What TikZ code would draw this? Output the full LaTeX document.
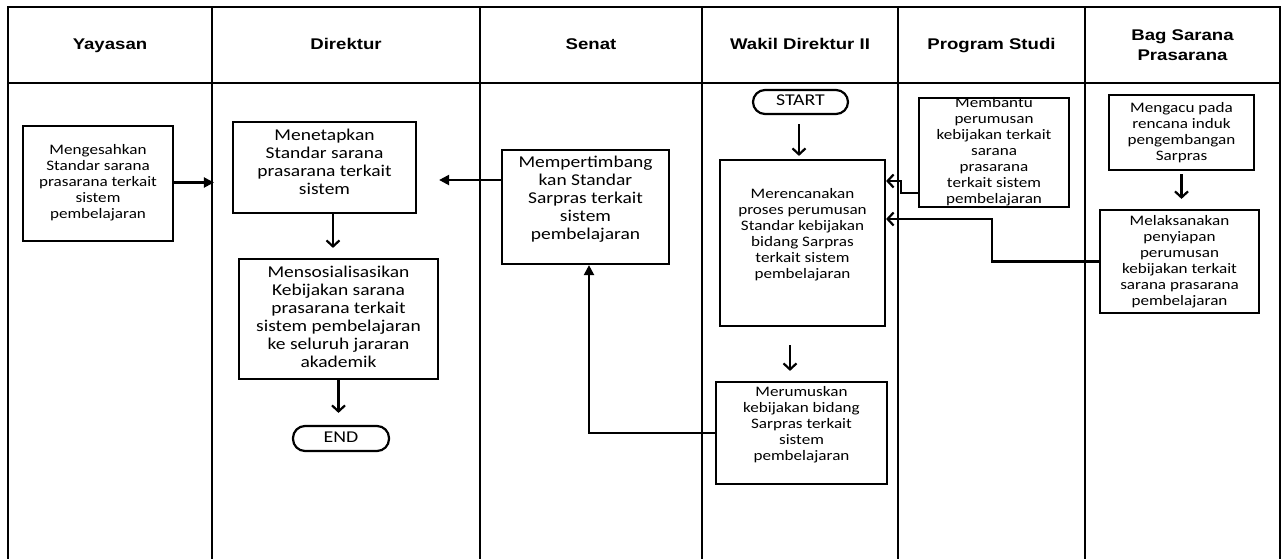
\documentclass[tikz,border=0pt]{standalone}
\usepackage{fontspec}
\usepackage{graphicx}
\newfontfamily\bodyfont{Carlito}
\newfontfamily\hdrfont{Liberation Sans}
\newcommand{\wtxt}[2][1.18]{\scalebox{#1}[1]{\begin{tabular}{@{}c@{}}#2\end{tabular}}}
\usetikzlibrary{arrows.meta}
\tikzset{
  lane/.style={line width=2.2pt},
  box/.style={draw, line width=2.2pt, inner sep=0pt, fill=white},
  txt/.style={font=\bodyfont\fontsize{14.5}{16}\selectfont, inner sep=0pt},
  txtbig/.style={font=\bodyfont\fontsize{16.5}{18}\selectfont, inner sep=0pt},
  term/.style={draw, line width=2.2pt, rounded corners=12pt, inner sep=0pt, font=\bodyfont\fontsize{16.5}{18}\selectfont},
  hdr/.style={font=\hdrfont\bfseries\fontsize{15.5}{20}\selectfont, inner sep=0pt},
  fa/.style={line width=2.2pt, -{Triangle[length=10pt,width=10pt]}},
  oa/.style={line width=2.2pt, -{Straight Barb[length=6pt,width=13pt]}},
}
\begin{document}
\begin{tikzpicture}[x=1pt,y=-1pt]
\useasboundingbox (0,0) rectangle (1286,558);
% lanes
\draw[lane] (8,560) -- (8,7) -- (1280,7) -- (1280,560);
\draw[lane] (8,83) -- (1280,83);
\foreach \x in {212,480,702,898,1085} \draw[lane] (\x,7) -- (\x,560);
% headers
\node[hdr] (h1) at (110,45) {\wtxt[1.2]{Yayasan}};
\node[hdr] (h2) at (346,45) {\wtxt[1.2]{Direktur}};
\node[hdr] (h3) at (591,45) {\wtxt[1.2]{Senat}};
\node[hdr] (h4) at (800,45) {\wtxt[1.2]{Wakil Direktur II}};
\node[hdr] (h5) at (991.5,45) {\wtxt[1.2]{Program Studi}};
\node[hdr] (h6) at (1182.5,46) {\wtxt[1.2]{Bag Sarana\\Prasarana}};
% boxes
\node[box, minimum width=150, minimum height=115,
  label={[txt,yshift=0pt]center:{\wtxt{Mengesahkan\\Standar sarana\\prasarana terkait\\sistem\\pembelajaran}}}] (Y1) at (98,183.5) {};
\node[box, minimum width=183, minimum height=91,
  label={[txtbig,yshift=4pt]center:{\wtxt{Menetapkan\\Standar sarana\\prasarana terkait\\sistem}}}] (D1) at (324.5,167.5) {};
\node[box, minimum width=199, minimum height=120,
  label={[txtbig,yshift=0pt]center:{\wtxt{Mensosialisasikan\\Kebijakan sarana\\prasarana terkait\\sistem pembelajaran\\ke seluruh jararan\\akademik}}}] (D2) at (338.5,319) {};
\node[term, minimum width=96, minimum height=25] (END) at (341,438.5) {\wtxt[1.2]{END}};
\node[box, minimum width=167, minimum height=114,
  label={[txtbig,yshift=7pt]center:{\wtxt{Mempertimbang\\kan Standar\\Sarpras terkait\\sistem\\pembelajaran}}}] (S1) at (585.5,207) {};
\node[term, minimum width=95, minimum height=24] (START) at (800.5,102) {\wtxt[1.2]{START}};
\node[box, minimum width=165, minimum height=166,
  label={[txt,yshift=8pt]center:{\wtxt{Merencanakan\\proses perumusan\\Standar kebijakan\\bidang Sarpras\\terkait sistem\\pembelajaran}}}] (W1) at (802.5,243) {};
\node[box, minimum width=171, minimum height=102,
  label={[txt,yshift=7.5pt]center:{\wtxt{Merumuskan\\kebijakan bidang\\Sarpras terkait\\sistem\\pembelajaran}}}] (W2) at (801.5,433) {};
\node[box, minimum width=150, minimum height=109,
  label={[txt,yshift=0pt]center:{\wtxt{Membantu\\perumusan\\kebijakan terkait\\sarana\\prasarana\\terkait sistem\\pembelajaran}}}] (P1) at (994,152.5) {};
\node[box, minimum width=145, minimum height=75,
  label={[txt,yshift=-1pt]center:{\wtxt{Mengacu pada\\rencana induk\\pengembangan\\Sarpras}}}] (B1) at (1181.5,132.5) {};
\node[box, minimum width=159, minimum height=103,
  label={[txt,yshift=-1pt]center:{\wtxt{Melaksanakan\\penyiapan\\perumusan\\kebijakan terkait\\sarana prasarana\\pembelajaran}}}] (B2) at (1179.5,261.5) {};
% turning points
\coordinate (p1turn) at (901,181);
\coordinate (b2turn) at (992,219);
% connectors
\draw[fa, shorten >=18pt] ([yshift=1pt]Y1.east) -- ([yshift=1pt]Y1.east -| D1.west);
\draw[fa, shorten >=22pt] ([yshift=27pt]S1.west) -- ([yshift=27pt]S1.west -| D1.east);
\draw[oa, shorten >=10pt] ([xshift=8.5pt]D1.south) -- ([xshift=8.5pt]D1.south |- D2.north);
\draw[oa, shorten >=12pt] (D2.south) -- (D2.south |- END.north);
\draw[oa, shorten <=9pt, shorten >=3pt] ([xshift=-1.5pt]START.south) -- ([xshift=-1.5pt]START.south |- W1.north);
\draw[oa, shorten <=18pt, shorten >=10pt] ([xshift=-12.5pt]W1.south) -- ([xshift=-12.5pt]W1.south |- W2.north);
\draw[fa] (W2.west) -| ([xshift=3.5pt]S1.south);
\draw[oa] ([yshift=-40.5pt]P1.west) -| (p1turn) -- (p1turn -| W1.east);
\draw[oa] (B2.west) -| (b2turn) -- (b2turn -| W1.east);
\draw[oa, shorten <=3pt, shorten >=10pt] (B1.south) -- (B1.south |- B2.north);
\end{tikzpicture}
\end{document}
